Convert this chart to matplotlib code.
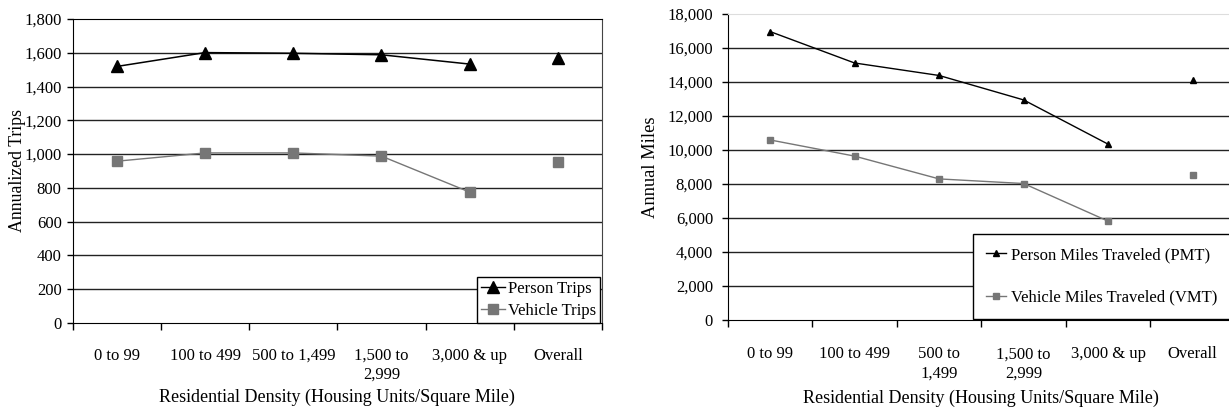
import matplotlib
matplotlib.use("Agg")
import matplotlib.pyplot as plt
from matplotlib.ticker import FixedLocator, StrMethodFormatter
import numpy as np

plt.rcParams['font.family'] = ['Liberation Serif', 'DejaVu Serif']
plt.rcParams['font.size'] = 12

# left chart: annualized trips by density
cats_left = ["0 to 99", "100 to 499", "500 to 1,499", "1,500 to\n2,999", "3,000 & up", "Overall"]
person_trips = [1519, 1601, 1597, 1588, 1533, 1568]
vehicle_trips = [958, 1007, 1007, 988, 775, 952]

# right chart: annual miles by density
cats_right = ["0 to 99", "100 to 499", "500 to\n1,499", "1,500 to\n2,999", "3,000 & up", "Overall"]
pmt = [16970, 15120, 14385, 12946, 10341, 14093]
vmt = [10594, 9642, 8300, 8028, 5812, 8553]

xlabel = "Residential Density (Housing Units/Square Mile)"
grey = '#767676'

fig = plt.figure(figsize=(12.29, 4.11), dpi=100)
ax1 = fig.add_axes([0.0592, 0.2141, 0.4306, 0.7397])
ax2 = fig.add_axes([0.5921, 0.2214, 0.4128, 0.7445])


def setup(ax, cats, ymax, step, ypad, xpad):
    n = len(cats)
    ax.set_xlim(-0.5, n - 0.5)
    ax.set_ylim(0, ymax)
    ax.set_xticks(np.arange(n))
    ax.set_xticklabels(cats, linespacing=1.25)
    ax.xaxis.set_minor_locator(FixedLocator(np.arange(n + 1) - 0.5))
    ax.tick_params(axis='x', which='major', length=0, pad=xpad)
    ax.tick_params(axis='x', which='minor', length=5, direction='out', width=1)
    ax.set_yticks(np.arange(0, ymax + 1, step))
    ax.yaxis.set_major_formatter(StrMethodFormatter('{x:,.0f}'))
    ax.tick_params(axis='y', length=4, direction='out', width=1, pad=ypad)
    for y in np.arange(step, ymax, step):
        ax.axhline(y, color='#222222', lw=1.0, zorder=1)
    ax.spines['left'].set_color('black')
    ax.spines['bottom'].set_color('black')


setup(ax1, cats_left, 1800, 200, 4, 18)
setup(ax2, cats_right, 18000, 2000, 6.5, 19)

x = np.arange(6)

# left: connected first five, overall as lone marker
ax1.plot(x[:5], person_trips[:5], color='black', lw=1.1, marker='^', ms=8.5, zorder=3)
ax1.plot(x[5], person_trips[5], color='black', marker='^', ms=8.5, ls='none', zorder=3)
ax1.plot(x[:5], vehicle_trips[:5], color=grey, lw=1.0, marker='s', ms=7.5, zorder=3)
ax1.plot(x[5], vehicle_trips[5], color=grey, marker='s', ms=7.5, ls='none', zorder=3)
h1 = ax1.plot([], [], color='black', lw=1.0, marker='^', ms=8.5, label='Person Trips')[0]
h2 = ax1.plot([], [], color=grey, lw=1.0, marker='s', ms=7.5, label='Vehicle Trips')[0]
leg1 = ax1.legend(handles=[h1, h2], loc='lower right', bbox_to_anchor=(0.997, 0.0),
                  borderaxespad=0, fancybox=False, edgecolor='black', framealpha=1,
                  handlelength=1.4, handletextpad=0.2, borderpad=0.25, labelspacing=0.35,
                  fontsize=12)
leg1.get_frame().set_linewidth(1.0)
leg1.set_zorder(5)
ax1.spines['top'].set_color('black')
ax1.spines['right'].set_color('#444444')
ax1.set_ylabel("Annualized Trips", fontsize=12.8)
ax1.yaxis.set_label_coords(-0.089, 0.5)
ax1.set_xlabel(xlabel, fontsize=13, labelpad=4)

# right chart
ax2.plot(x[:5], pmt[:5], color='black', lw=1.0, marker='^', ms=4.5, zorder=3)
ax2.plot(x[5], pmt[5], color='black', marker='^', ms=4.5, ls='none', zorder=3)
ax2.plot(x[:5], vmt[:5], color=grey, lw=1.0, marker='s', ms=4, zorder=3)
ax2.plot(x[5], vmt[5], color=grey, marker='s', ms=4, ls='none', zorder=3)
g1 = ax2.plot([], [], color='black', lw=1.0, marker='^', ms=4.5, label='Person Miles Traveled (PMT)')[0]
g2 = ax2.plot([], [], color=grey, lw=1.0, marker='s', ms=4, label='Vehicle Miles Traveled (VMT)')[0]
leg2 = ax2.legend(handles=[g1, g2], loc='lower left', bbox_to_anchor=(0.4836, 0.003, 0.53, 0.28),
                  mode='expand', borderaxespad=0, fancybox=False, edgecolor='black',
                  framealpha=1, handlelength=1.2, handletextpad=0.3, borderpad=0.8,
                  labelspacing=1.6, fontsize=12)
leg2.get_frame().set_linewidth(1.0)
leg2.set_zorder(5)
ax2.spines['top'].set_color('#dddddd')
ax2.spines['right'].set_visible(False)
ax2.set_ylabel("Annual Miles", fontsize=13.3)
ax2.yaxis.set_label_coords(-0.135, 0.5)
ax2.set_xlabel(xlabel, fontsize=13, labelpad=6)

fig.savefig("out.png", dpi=100)
